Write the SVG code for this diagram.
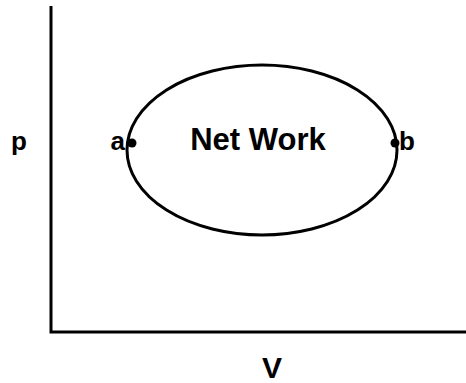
<svg xmlns="http://www.w3.org/2000/svg" width="466" height="383" viewBox="0 0 466 383">
<style>
.t{font-family:"Liberation Sans",Arial,sans-serif;font-weight:bold;fill:#000}
.ln{stroke:#000;stroke-width:3;fill:none}
</style>
<rect width="466" height="383" fill="#fff"/>
<g id="connectors">
<path id="axes" class="ln" d="M51,6 L51,332 L466,332"/>
<ellipse id="cycle" class="ln" cx="262" cy="150" rx="135" ry="85" stroke-width="2.5"/>
</g>
<g id="node-a"><circle cx="132" cy="143" r="4.5"/><text class="t" x="125" y="150" font-size="26" text-anchor="end">a</text></g>
<g id="node-b"><circle cx="395" cy="143" r="4.5"/><text class="t" x="399" y="150" font-size="26">b</text></g>
<g id="label-net"><text class="t" x="258" y="150" font-size="31" text-anchor="middle">Net  Work</text></g>
<g id="label-p"><text class="t" x="11" y="150" font-size="26">p</text></g>
<g id="label-V"><text class="t" x="272" y="378" font-size="30" text-anchor="middle">V</text></g>
</svg>
